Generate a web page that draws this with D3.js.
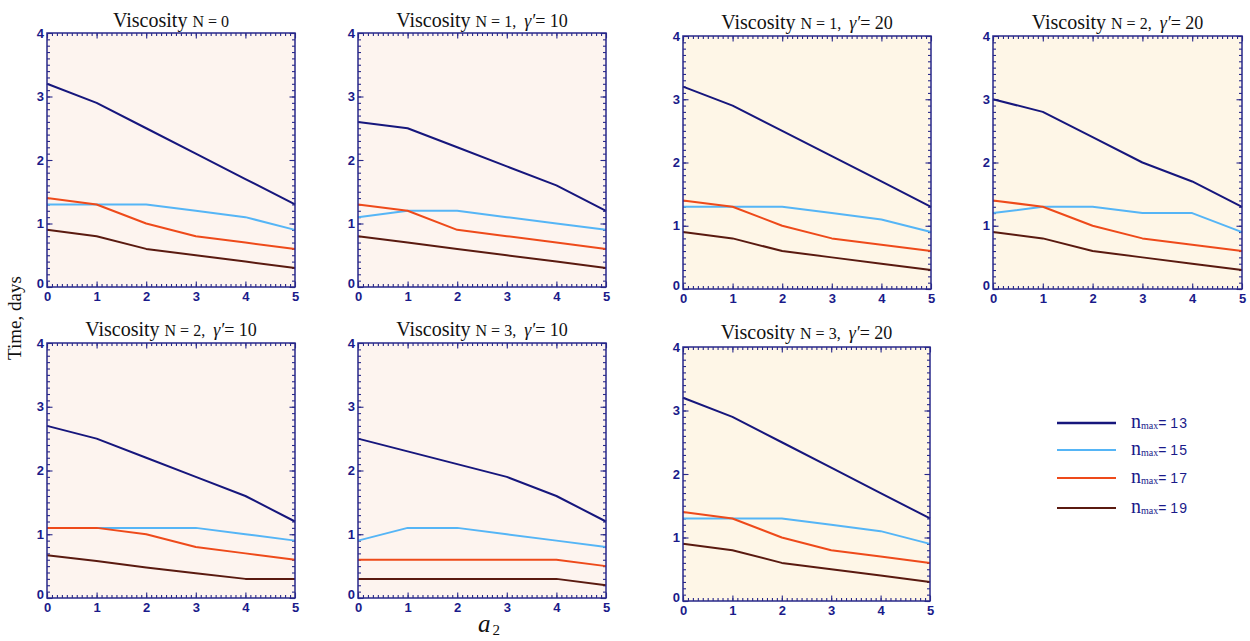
<!DOCTYPE html>
<html>
<head>
<meta charset="utf-8">
<script src="https://cdn.jsdelivr.net/npm/d3@7"></script>
<style>
  body { margin: 0; background: #ffffff; }
  svg { display: block; }
</style>
</head>
<body>
<div id="chart"></div>
<script>
// ============================================================
//  DATA
// ============================================================

const aValues = [0, 1, 2, 3, 4, 5];

// title parts per panel
const panelN = ["0", "1", "1", "2", "2", "3", "3"];
const panelGamma = [null, "10", "20", "20", "10", "10", "20"];

// series values, one row per panel (same order as titles)
const nmax13 = [
    [3.2, 2.9, 2.5, 2.1, 1.7, 1.3],
    [2.6, 2.5, 2.2, 1.9, 1.6, 1.2],
    [3.2, 2.9, 2.5, 2.1, 1.7, 1.3],
    [3.0, 2.8, 2.4, 2.0, 1.7, 1.3],
    [2.7, 2.5, 2.2, 1.9, 1.6, 1.2],
    [2.5, 2.3, 2.1, 1.9, 1.6, 1.2],
    [3.2, 2.9, 2.5, 2.1, 1.7, 1.3]
];
const nmax15 = [
    [1.3, 1.3, 1.3, 1.2, 1.1, 0.9],
    [1.1, 1.2, 1.2, 1.1, 1.0, 0.9],
    [1.3, 1.3, 1.3, 1.2, 1.1, 0.9],
    [1.2, 1.3, 1.3, 1.2, 1.2, 0.9],
    [1.1, 1.1, 1.1, 1.1, 1.0, 0.9],
    [0.9, 1.1, 1.1, 1.0, 0.9, 0.8],
    [1.3, 1.3, 1.3, 1.2, 1.1, 0.9]
];
const nmax17 = [
    [1.4, 1.3, 1.0, 0.8, 0.7, 0.6],
    [1.3, 1.2, 0.9, 0.8, 0.7, 0.6],
    [1.4, 1.3, 1.0, 0.8, 0.7, 0.6],
    [1.4, 1.3, 1.0, 0.8, 0.7, 0.6],
    [1.1, 1.1, 1.0, 0.8, 0.7, 0.6],
    [0.6, 0.6, 0.6, 0.6, 0.6, 0.5],
    [1.4, 1.3, 1.0, 0.8, 0.7, 0.6]
];
const nmax19 = [
    [0.9, 0.8, 0.6, 0.5, 0.4, 0.3],
    [0.8, 0.7, 0.6, 0.5, 0.4, 0.3],
    [0.9, 0.8, 0.6, 0.5, 0.4, 0.3],
    [0.9, 0.8, 0.6, 0.5, 0.4, 0.3],
    [0.67, 0.58, 0.48, 0.39, 0.3, 0.3],
    [0.3, 0.3, 0.3, 0.3, 0.3, 0.2],
    [0.9, 0.8, 0.6, 0.5, 0.4, 0.3]
];

const seriesNames = ["13", "15", "17", "19"];
const seriesValues = [nmax13, nmax15, nmax17, nmax19];

const yTicks = [0, 1, 2, 3, 4];

// ============================================================
//  CONFIGURATION
// ============================================================

const CONFIG = {
    WIDTH: 1250,
    HEIGHT: 641,
    COLORS: ["#16167c", "#55b5f6", "#ee4a1a", "#5a1a10"],
    AXIS_COLOR: "#28288a",
    LABEL_COLOR: "#1a1a8a",
    BG_PINK: "#fdf4ef",
    BG_CREAM: "#fef6e7",
    LINE_WIDTH: 2,
    MINOR_TICK: 3,
    MAJOR_TICK: 5.5,
    SERIF: "'Liberation Serif', 'Times New Roman', serif",
    SANS: "'Liberation Sans', Arial, sans-serif",
};

// panel boxes, same order as data rows
const PANELS = [
    { l: 47,  r: 295,  t: 33,  b: 287, title: 27,  bg: CONFIG.BG_PINK },
    { l: 358, r: 606,  t: 33,  b: 287, title: 27,  bg: CONFIG.BG_PINK },
    { l: 683, r: 931,  t: 36,  b: 289, title: 29,  bg: CONFIG.BG_CREAM },
    { l: 993, r: 1242, t: 36,  b: 289, title: 29,  bg: CONFIG.BG_CREAM },
    { l: 47,  r: 295,  t: 343, b: 598, title: 336, bg: CONFIG.BG_PINK },
    { l: 358, r: 606,  t: 343, b: 598, title: 336, bg: CONFIG.BG_PINK },
    { l: 683, r: 930,  t: 347, b: 601, title: 339, bg: CONFIG.BG_CREAM },
];

const svg = d3.select("#chart").append("svg")
    .attr("width", CONFIG.WIDTH)
    .attr("height", CONFIG.HEIGHT);

// ============================================================
//  PANELS
// ============================================================

function styleAxis(sel, showLabels) {
    sel.select(".domain").remove();
    sel.selectAll(".tick line").attr("stroke", CONFIG.AXIS_COLOR).attr("stroke-width", 1.1);
    sel.selectAll(".tick text")
        .attr("fill", CONFIG.LABEL_COLOR)
        .style("font-family", CONFIG.SANS)
        .style("font-weight", "bold")
        .style("font-size", "13px");
    if (!showLabels) sel.selectAll(".tick text").remove();
}

PANELS.forEach((p, i) => {
    const g = svg.append("g");

    const x = d3.scaleLinear().domain([0, 5]).range([p.l, p.r]);
    const y = d3.scaleLinear().domain([0, 4]).range([p.b, p.t]);

    g.append("rect")
        .attr("x", p.l).attr("y", p.t)
        .attr("width", p.r - p.l).attr("height", p.b - p.t)
        .attr("fill", p.bg);

    const minorX = d3.range(0, 50).map(d => d / 10);
    const minorY = d3.range(0, 40).map(d => d / 10);

    // minor ticks, all four sides, pointing inwards
    g.append("g").attr("transform", `translate(0,${p.b})`)
        .call(d3.axisBottom(x).tickValues(minorX).tickSize(-CONFIG.MINOR_TICK)).call(styleAxis, false);
    g.append("g").attr("transform", `translate(0,${p.t})`)
        .call(d3.axisTop(x).tickValues(minorX).tickSize(-CONFIG.MINOR_TICK)).call(styleAxis, false);
    g.append("g").attr("transform", `translate(${p.l},0)`)
        .call(d3.axisLeft(y).tickValues(minorY).tickSize(-CONFIG.MINOR_TICK)).call(styleAxis, false);
    g.append("g").attr("transform", `translate(${p.r},0)`)
        .call(d3.axisRight(y).tickValues(minorY).tickSize(-CONFIG.MINOR_TICK)).call(styleAxis, false);

    // major ticks + labels
    g.append("g").attr("transform", `translate(0,${p.b})`)
        .call(d3.axisBottom(x).tickValues(aValues).tickSize(-CONFIG.MAJOR_TICK).tickPadding(5).tickFormat(d3.format("d")))
        .call(styleAxis, true);
    g.append("g").attr("transform", `translate(0,${p.t})`)
        .call(d3.axisTop(x).tickValues(aValues).tickSize(-CONFIG.MAJOR_TICK)).call(styleAxis, false);
    const yl = g.append("g").attr("transform", `translate(${p.l},0)`)
        .call(d3.axisLeft(y).tickValues(yTicks).tickSize(-CONFIG.MAJOR_TICK).tickPadding(3).tickFormat(d3.format("d")))
        .call(styleAxis, true);
    yl.selectAll(".tick text").filter(d => d === 0).attr("dy", "0.05em");
    g.append("g").attr("transform", `translate(${p.r},0)`)
        .call(d3.axisRight(y).tickValues(yTicks).tickSize(-CONFIG.MAJOR_TICK)).call(styleAxis, false);

    // lines
    const line = d3.line().x((d, j) => x(aValues[j])).y(d => y(d));
    seriesValues.forEach((s, k) => {
        g.append("path")
            .datum(s[i])
            .attr("d", line)
            .attr("fill", "none")
            .attr("stroke", CONFIG.COLORS[k])
            .attr("stroke-width", CONFIG.LINE_WIDTH)
            .attr("stroke-linejoin", "round");
    });

    // frame
    g.append("rect")
        .attr("x", p.l).attr("y", p.t)
        .attr("width", p.r - p.l).attr("height", p.b - p.t)
        .attr("fill", "none")
        .attr("stroke", CONFIG.AXIS_COLOR)
        .attr("stroke-width", 1.5);

    // title
    const title = g.append("text")
        .attr("x", (p.l + p.r) / 2)
        .attr("y", p.title)
        .attr("text-anchor", "middle")
        .attr("fill", "#111")
        .style("font-family", CONFIG.SERIF);
    title.append("tspan").style("font-size", "20px").text("Viscosity ");
    title.append("tspan").style("font-size", "16px")
        .text(`N = ${panelN[i]}` + (panelGamma[i] ? ",\u00a0 " : ""));
    if (panelGamma[i]) {
        title.append("tspan").style("font-size", "18px").style("font-style", "italic").text("\u03b3\u2032");
        title.append("tspan").style("font-size", "18px").text(`= ${panelGamma[i]}`);
    }
});

// ============================================================
//  AXIS TITLES
// ============================================================

svg.append("text")
    .attr("transform", "translate(21,318) rotate(-90)")
    .attr("text-anchor", "middle")
    .attr("fill", "#111")
    .style("font-family", CONFIG.SERIF)
    .style("font-size", "19px")
    .text("Time, days");

const xLabel = svg.append("text")
    .attr("x", 478).attr("y", 632)
    .attr("fill", "#111")
    .style("font-family", CONFIG.SERIF);
xLabel.append("tspan").style("font-size", "25px").style("font-style", "italic").text("a");
xLabel.append("tspan").style("font-size", "15px").attr("dx", 2).attr("dy", 3).text("2");

// ============================================================
//  LEGEND
// ============================================================

const legendY = [423, 450, 478, 508];
seriesNames.forEach((name, k) => {
    const ly = legendY[k];
    svg.append("line")
        .attr("x1", 1057).attr("x2", 1116)
        .attr("y1", ly).attr("y2", ly)
        .attr("stroke", CONFIG.COLORS[k])
        .attr("stroke-width", k === 0 ? 2.6 : 2.2);
    const t = svg.append("text")
        .attr("x", 1131).attr("y", ly + 5)
        .attr("fill", CONFIG.LABEL_COLOR);
    t.append("tspan").style("font-family", CONFIG.SERIF).style("font-size", "20px").text("n");
    t.append("tspan").style("font-family", CONFIG.SERIF).style("font-size", "10px").attr("dy", 1).text("max");
    t.append("tspan").style("font-family", CONFIG.SANS).style("font-size", "14px").attr("dy", -1)
        .text(`= ${name.split("").join("\u200a")}`);
});
</script>
</body>
</html>
